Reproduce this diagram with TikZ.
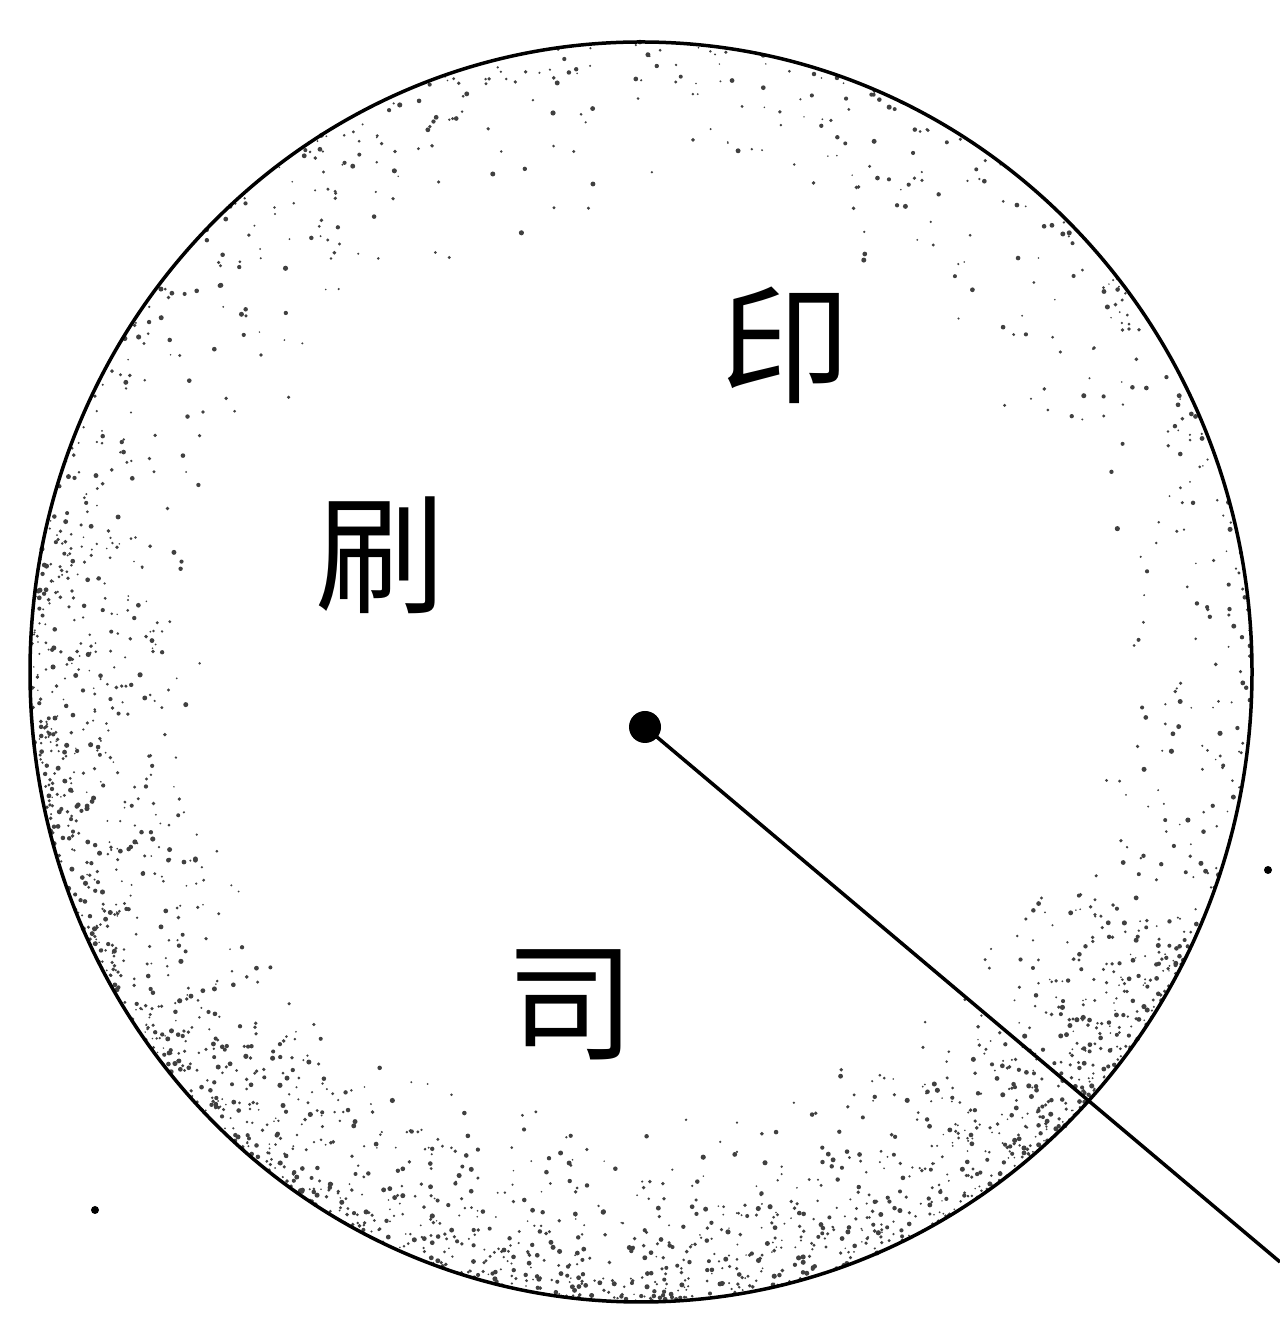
\documentclass[tikz,border=0pt]{standalone}
\usepackage{fontspec}
\usetikzlibrary{calc}
\newfontfamily\cjk{Noto Sans CJK SC}
\begin{document}
\begin{tikzpicture}[x=1pt,y=1pt,
  rim/.style={draw=black,line width=3.5pt},
  ch/.style={font=\cjk\fontsize{130}{130}\selectfont,inner sep=0pt},
  speck/.style={fill=black!75,draw=none}]
\useasboundingbox (0,0) rectangle (1280,1331);
\fill[white] (0,0) rectangle (1280,1331);
\coordinate (c) at (641,659);
\pgfmathsetseed{4711}
% stippled ring, uniform
\foreach \i in {1,...,1000}{
  \pgfmathsetmacro\ang{360*rnd}
  \pgfmathsetmacro\rad{1-0.3*rnd*rnd}
  \pgfmathsetmacro\sz{0.8+1.8*rnd}
  \pgfmathsetmacro\rx{611*\rad}
  \pgfmathsetmacro\ry{630*\rad}
  \fill[speck] ([shift={(\ang:\rx pt and \ry pt)}]c) circle (\sz);
}
% denser on lower and left side
\foreach \i in {1,...,1400}{
  \pgfmathsetmacro\ang{165+170*rnd}
  \pgfmathsetmacro\rad{1-0.3*rnd*rnd}
  \pgfmathsetmacro\sz{0.8+1.8*rnd}
  \pgfmathsetmacro\rx{611*\rad}
  \pgfmathsetmacro\ry{630*\rad}
  \fill[speck] ([shift={(\ang:\rx pt and \ry pt)}]c) circle (\sz);
}
\draw[rim] (c) ellipse [x radius=611, y radius=630];
\node[ch] (yin) at (785,986) {印};
\node[ch] (shua) at (380,776) {刷};
\node[ch] (si) at (570,326) {司};
\node[circle,fill=black,minimum size=32pt,inner sep=0pt] (hub) at (645,604) {};
\coordinate (out) at (1280,69);
\draw[line width=3.5pt] (hub.center) -- (out);
\node[circle,fill=black,minimum size=8pt,inner sep=0pt] (d1) at (1268,461) {};
\node[circle,fill=black,minimum size=8pt,inner sep=0pt] (d2) at (95,121) {};
\end{tikzpicture}
\end{document}
